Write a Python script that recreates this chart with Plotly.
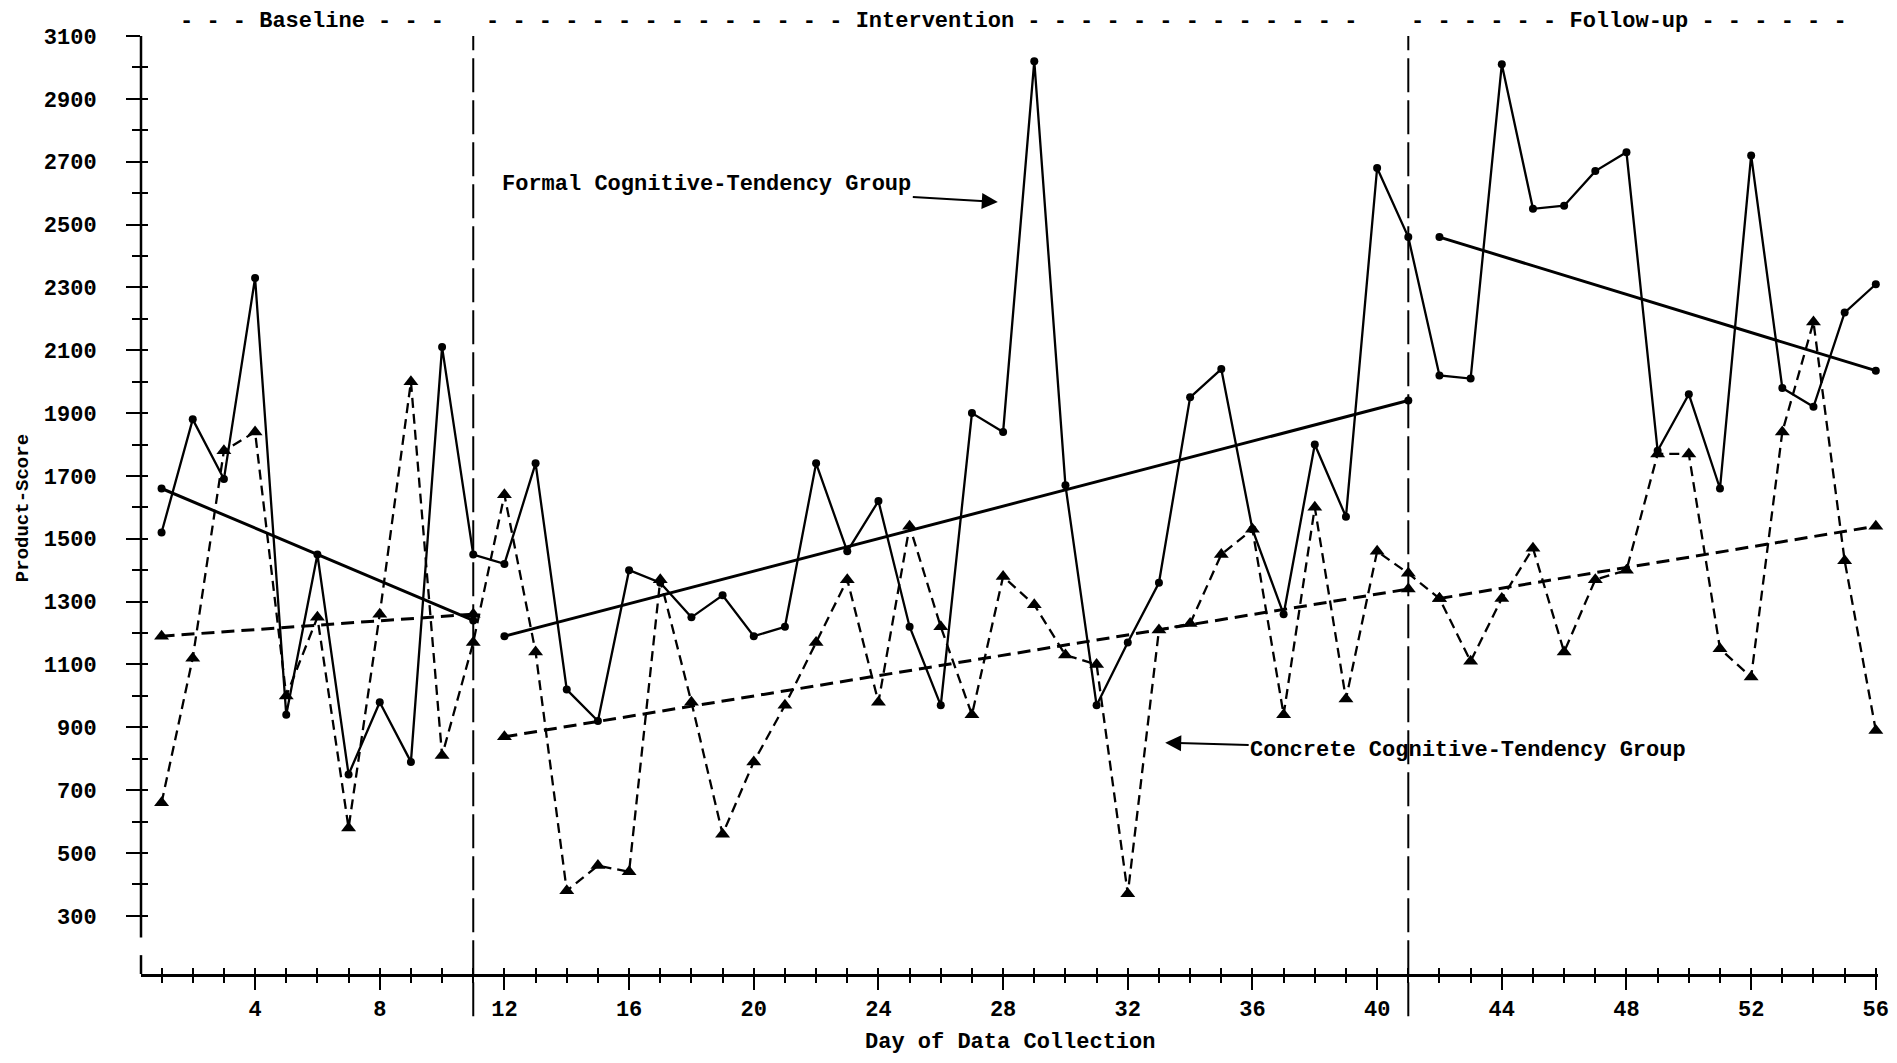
import plotly.graph_objects as go

# ---------------- data ----------------
days = list(range(1, 57))

formal_scores = [
    1520, 1880, 1690, 2330, 940, 1450, 750, 980, 790, 2110, 1450,      # 1-11
    1420, 1740, 1020, 920, 1400, 1360, 1250, 1320, 1190, 1220,          # 12-21
    1740, 1460, 1620, 1220, 970, 1900, 1840, 3020, 1670, 970,           # 22-31
    1170, 1360, 1950, 2040, 1530, 1260, 1800, 1570, 2680, 2460,         # 32-41
    2020, 2010, 3010, 2550, 2560, 2670, 2730, 1780, 1960, 1660,         # 42-51
    2720, 1980, 1920, 2220, 2310,                                       # 52-56
]

concrete_scores = [
    660, 1120, 1780, 1840, 1000, 1250, 580, 1260, 2000, 810, 1170,      # 1-11
    1640, 1140, 380, 460, 440, 1370, 980, 560, 790, 970,                # 12-21
    1170, 1370, 980, 1540, 1220, 940, 1380, 1290, 1130, 1100,           # 22-31
    370, 1210, 1230, 1450, 1530, 940, 1600, 990, 1460, 1390,            # 32-41
    1310, 1110, 1310, 1470, 1140, 1370, 1400, 1770, 1770, 1150,         # 42-51
    1060, 1840, 2190, 1430, 890,                                        # 52-56
]

phase_bounds = [11, 41]
phase_names = ["Baseline", "Intervention", "Follow-up"]

trend_days = [[1, 11], [12, 41], [42, 56]]
formal_trend_scores = [[1660, 1240], [1190, 1940], [2460, 2035]]
concrete_trend_scores = [[1190, 1260], [870, 1340], [1310, 1540]]

y_tick_vals = list(range(300, 3101, 200))
y_minor_vals = list(range(400, 3001, 200))
y_all_vals = list(range(300, 3101, 100))
x_tick_vals = list(range(4, 57, 4))
x_minor_vals = [d for d in days if d % 4 != 0]

x_title = "Day of Data Collection"
y_title = "Product-Score"
formal_label = "Formal Cognitive-Tendency Group"
concrete_label = "Concrete Cognitive-Tendency Group"

# ---------------- figure ----------------
FONT = "Liberation Mono, Courier New, monospace"
XR = [0.34, 56.07]
YR = [115, 3100]


def tf(size=22):
    return dict(family=FONT, size=size, color="black", weight="bold")


fig = go.Figure()

# trend lines
for td, fv, cv in zip(trend_days, formal_trend_scores, concrete_trend_scores):
    fig.add_trace(go.Scatter(
        x=td, y=fv, mode="lines+markers", cliponaxis=False,
        line=dict(color="black", width=3),
        marker=dict(symbol="circle", size=8, color="black"),
        showlegend=False, hoverinfo="skip"))
    fig.add_trace(go.Scatter(
        x=td, y=cv, mode="lines+markers", cliponaxis=False,
        line=dict(color="black", width=3, dash="13px,7px"),
        marker=dict(symbol="triangle-up", size=13, color="black"),
        showlegend=False, hoverinfo="skip"))

# data series
fig.add_trace(go.Scatter(
    x=days, y=concrete_scores, mode="lines+markers", cliponaxis=False,
    line=dict(color="black", width=2.3, dash="10px,6px"),
    marker=dict(symbol="triangle-up", size=13, color="black"),
    name=concrete_label, showlegend=False))
fig.add_trace(go.Scatter(
    x=days, y=formal_scores, mode="lines+markers", cliponaxis=False,
    line=dict(color="black", width=2.3),
    marker=dict(symbol="circle", size=8, color="black"),
    name=formal_label, showlegend=False))

# dummy trace for the overlay axes (inner halves of the crossing ticks)
fig.add_trace(go.Scatter(x=[None], y=[None], xaxis="x2", yaxis="y2",
                         showlegend=False, hoverinfo="skip"))

fig.update_layout(
    width=1881, height=1047,
    margin=dict(l=133, r=11, t=28, b=81),
    paper_bgcolor="white", plot_bgcolor="white",
    font=tf(),
    xaxis=dict(
        range=XR, showgrid=False, zeroline=False, automargin=False,
        showline=True, linecolor="black", linewidth=2.5,
        tickmode="array", tickvals=x_tick_vals,
        ticktext=[str(v) for v in x_tick_vals],
        ticks="outside", ticklen=13, tickwidth=2, tickcolor="black",
        ticklabelstandoff=0, ticklabeloverflow="allow",
        minor=dict(tickmode="array", tickvals=x_minor_vals, ticks="outside",
                   ticklen=6, tickwidth=2, tickcolor="black"),
        tickfont=tf(),
    ),
    yaxis=dict(
        range=YR, showgrid=False, zeroline=False, showline=False, automargin=False,
        tickmode="array", tickvals=y_tick_vals,
        ticktext=[str(v) for v in y_tick_vals],
        ticks="outside", ticklen=14, tickwidth=2, tickcolor="black",
        ticklabelstandoff=25,
        minor=dict(tickmode="array", tickvals=y_minor_vals, ticks="outside",
                   ticklen=8, tickwidth=2, tickcolor="black"),
        tickfont=tf(),
    ),
    xaxis2=dict(
        range=XR, overlaying="x", anchor="y", side="bottom", automargin=False,
        showgrid=False, zeroline=False, showline=False,
        tickmode="array", tickvals=days, ticks="inside", ticklen=6,
        tickwidth=2, tickcolor="black", showticklabels=False,
    ),
    yaxis2=dict(
        range=YR, overlaying="y", anchor="x", side="left", automargin=False,
        showgrid=False, zeroline=False, showline=False,
        tickmode="array", tickvals=y_all_vals, ticks="inside", ticklen=7,
        tickwidth=2, tickcolor="black", showticklabels=False,
    ),
)

# y-axis line (with the small gap above the corner)
fig.add_shape(type="line", xref="paper", yref="y", x0=0, x1=0, y0=231, y1=3100,
              line=dict(color="black", width=2.5))
fig.add_shape(type="line", xref="paper", yref="y", x0=0, x1=0, y0=115, y1=175,
              line=dict(color="black", width=2.5))

# phase change lines
for b in phase_bounds:
    fig.add_shape(type="line", xref="x", yref="paper", x0=b, x1=b, y0=-0.045, y1=1.0,
                  line=dict(color="black", width=2, dash="34px,8px"))

# phase labels with dashes
phase_texts = [
    "- - - " + phase_names[0] + " - - -",
    "- " * 14 + phase_names[1] + " -" * 13,
    "- " * 6 + phase_names[2] + " -" * 6,
]
phase_x = [1.54, 11.36, 41.03]
for t, px in zip(phase_texts, phase_x):
    fig.add_annotation(x=px, y=1.015, xref="x", yref="paper", text=t,
                       xanchor="left", yanchor="middle", showarrow=False,
                       font=tf())

# group labels with arrows
fig.add_annotation(x=27.83, y=2572, xref="x", yref="y", text=formal_label,
                   showarrow=True, ax=-291, ay=-17, axref="pixel", ayref="pixel",
                   arrowhead=2, arrowsize=1.6, arrowwidth=2, arrowcolor="black",
                   font=tf())
fig.add_annotation(x=33.2, y=851, xref="x", yref="y", text=concrete_label,
                   showarrow=True, ax=303, ay=8, axref="pixel", ayref="pixel",
                   arrowhead=2, arrowsize=1.6, arrowwidth=2, arrowcolor="black",
                   font=tf())

# axis titles
fig.add_annotation(x=0.5, y=-0.0725, xref="paper", yref="paper", text=x_title,
                   showarrow=False, xanchor="center", yanchor="middle",
                   font=tf())
fig.add_annotation(x=-0.068, y=0.4965, xref="paper", yref="paper", text=y_title,
                   showarrow=False, xanchor="center", yanchor="middle", textangle=-90,
                   font=tf(19))

fig.write_html("out.html")
